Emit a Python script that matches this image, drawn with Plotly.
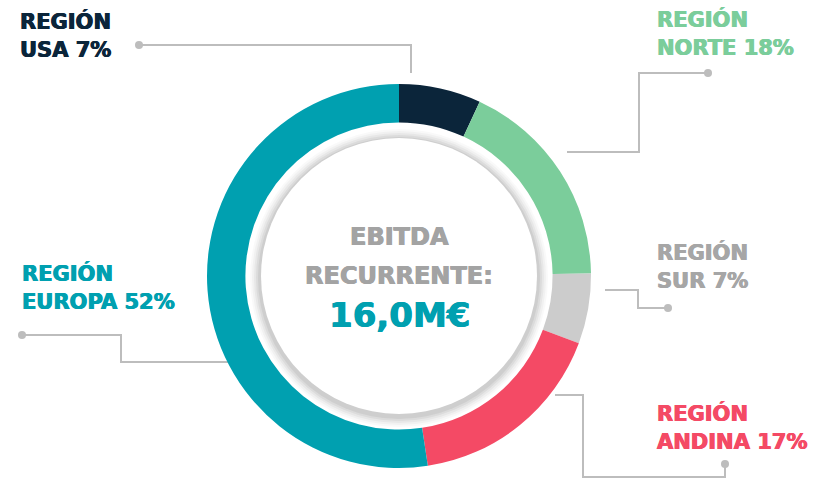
import plotly.graph_objects as go

# ==========================================================
# DATA
# ==========================================================

regions = ["USA", "NORTE", "SUR", "ANDINA", "EUROPA"]
# shares printed on the labels
shares = [7, 18, 7, 17, 52]
# slice sizes as measured from the ring's angles
slice_values = [6.9, 17.9, 5.9, 16.9, 52.4]
slice_colors = ["#0B253A", "#7BCD9B", "#CCCCCC", "#F44A65", "#00A0B0"]
label_colors = ["#0B253A", "#7BCD9B", "#A6A6A6", "#F44A65", "#00A0B0"]

center_lines = ["EBITDA", "RECURRENTE:"]
center_value = "16,0M€"

# ==========================================================
# LAYOUT CONSTANTS (pixels)
# ==========================================================

W, H = 832, 479
CX, CY, R = 399, 276, 192
FONT = "DejaVu Sans"
LINE_COLOR = "#BDBDBD"

# label anchor (left x, first line centre y) per region
label_pos = [(20, 21), (657, 19), (657, 252), (657, 413), (22, 273)]

# leader polylines, last point is the dot
leaders = [
    [(411, 73), (411, 45), (139, 45)],
    [(567, 152), (639, 152), (639, 73), (708, 73)],
    [(605, 290), (638, 290), (638, 308), (668, 308)],
    [(555, 395), (583, 395), (583, 477), (725, 477), (725, 464)],
    [(228, 362), (121, 362), (121, 335), (22, 335)],
]


def heavy(color):
    # fake an extra-bold weight with a thin horizontal text shadow
    return f"0.5px 0 0 {color}, -0.5px 0 0 {color}"


fig = go.Figure()

fig.add_trace(
    go.Pie(
        labels=regions,
        values=slice_values,
        sort=False,
        direction="clockwise",
        rotation=0,
        hole=0.80,
        textinfo="none",
        hoverinfo="label",
        marker=dict(colors=slice_colors, line=dict(width=0)),
        domain=dict(
            x=[(CX - R) / W, (CX + R) / W],
            y=[1 - (CY + R) / H, 1 - (CY - R) / H],
        ),
        showlegend=False,
    )
)

shapes = []

# soft shadow + white inner disc
for rad, alpha in [(149, 0.025), (147, 0.03), (145, 0.04), (143, 0.05), (141, 0.06)]:
    shapes.append(dict(
        type="circle", xref="x", yref="y",
        x0=CX - rad, x1=CX + rad, y0=CY - rad + 2, y1=CY + rad + 2,
        fillcolor=f"rgba(0,0,0,{alpha})", line=dict(width=0), layer="above",
    ))
shapes.append(dict(
    type="circle", xref="x", yref="y",
    x0=CX - 138, x1=CX + 138, y0=CY - 138, y1=CY + 138,
    fillcolor="white", line=dict(width=0), layer="above",
))

# leader lines and dots
for pts in leaders:
    path = "M " + " L ".join(f"{x},{y}" for x, y in pts)
    shapes.append(dict(
        type="path", xref="x", yref="y", path=path,
        line=dict(color=LINE_COLOR, width=2), layer="below",
    ))
    dx, dy = pts[-1]
    shapes.append(dict(
        type="circle", xref="x", yref="y",
        x0=dx - 4, x1=dx + 4, y0=dy - 4, y1=dy + 4,
        fillcolor=LINE_COLOR, line=dict(width=0), layer="below",
    ))

annotations = []

for region, share, color, (lx, ly) in zip(regions, shares, label_colors, label_pos):
    for i, txt in enumerate(["REGIÓN", f"{region} {share}%"]):
        annotations.append(dict(
            x=lx - 2, y=ly + i * 28.5, xref="x", yref="y",
            text=txt, showarrow=False, xanchor="left", yanchor="middle",
            font=dict(family=FONT, size=21, color=color, weight="bold",
                      shadow=heavy(color)),
        ))

for i, txt in enumerate(center_lines):
    annotations.append(dict(
        x=CX, y=237 + i * 39, xref="x", yref="y",
        text=txt, showarrow=False, xanchor="center", yanchor="middle",
        font=dict(family=FONT, size=24, color="#A3A3A3", weight="bold",
                  shadow=heavy("#A3A3A3")),
    ))
annotations.append(dict(
    x=CX, y=315, xref="x", yref="y",
    text=center_value, showarrow=False, xanchor="center", yanchor="middle",
    font=dict(family=FONT, size=34, color="#00A0B0", weight="bold",
              shadow=heavy("#00A0B0")),
))

fig.update_layout(
    width=W,
    height=H,
    margin=dict(l=0, r=0, t=0, b=0),
    paper_bgcolor="white",
    plot_bgcolor="rgba(0,0,0,0)",
    xaxis=dict(range=[0, W], visible=False, fixedrange=True),
    yaxis=dict(range=[H, 0], visible=False, fixedrange=True),
    shapes=shapes,
    annotations=annotations,
)

fig.write_html(
    "out.html",
    config={"displayModeBar": False},
    post_script="document.body.style.margin='0';",
)
